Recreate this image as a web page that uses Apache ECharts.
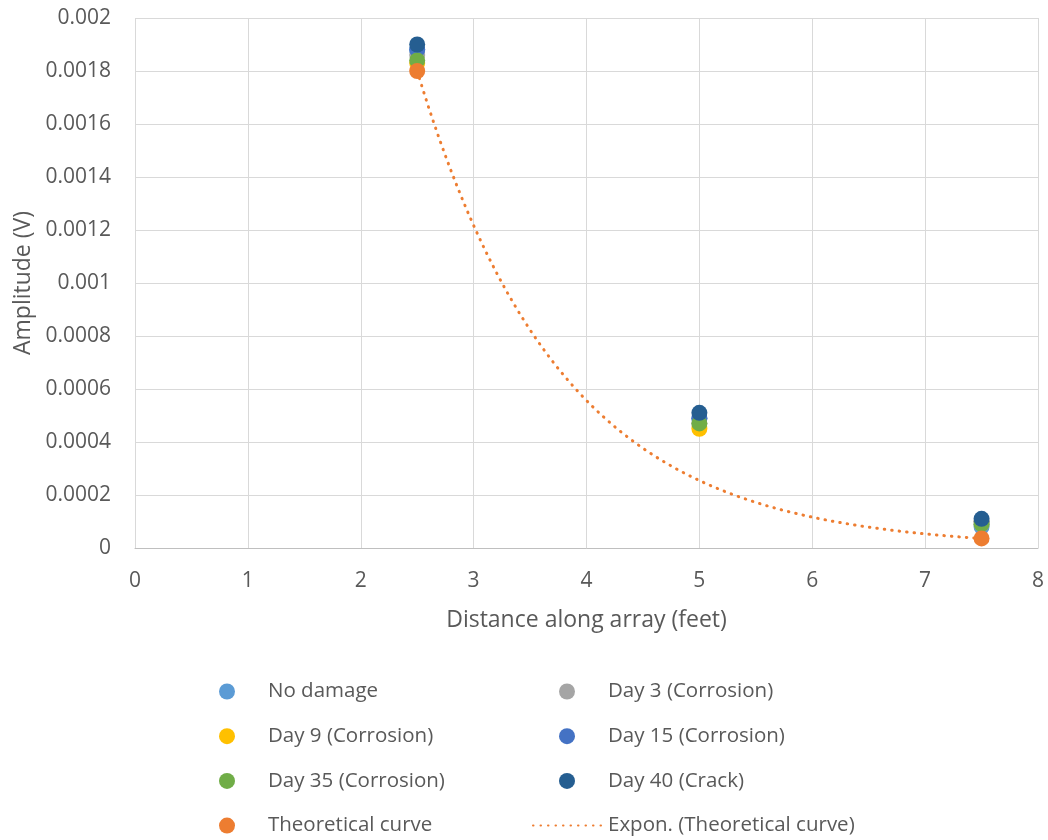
<!DOCTYPE html>
<html>
<head>
<meta charset="utf-8">
<script src="https://cdn.jsdelivr.net/npm/echarts@6/dist/echarts.min.js"></script>
<style>html,body{margin:0;padding:0;background:#fff}#c{width:1048px;height:840px}</style>
</head>
<body>
<div id="c"></div>
<script>
// ---- data ----
const distances = [2.5, 5, 7.5];
const noDamage = [0.00188, 0.00049, 0.00008];
const day3 = [0.00186, 0.00047, 0.00009];
const day9 = [0.00183, 0.00045, 0.00010];
const day15 = [0.00188, 0.00049, 0.00010];
const day35 = [0.00184, 0.00047, 0.00009];
const day40 = [0.00190, 0.00051, 0.00011];
const theoX = [2.5, 7.5];
const theoY = [0.00180, 0.000036];
const seriesNames = ['No damage', 'Day 3 (Corrosion)', 'Day 9 (Corrosion)', 'Day 15 (Corrosion)', 'Day 35 (Corrosion)', 'Day 40 (Crack)', 'Theoretical curve'];
const trendName = 'Expon. (Theoretical curve)';

const colors = ['#5B9BD5', '#A5A5A5', '#FFC000', '#4472C4', '#70AD47', '#255E91', '#ED7D31'];
const FONT = '"Open Sans", sans-serif';

// Exponential (least squares on ln y) trendline fitted from theoretical points, like Excel
function expFit(xs, ys) {
  const n = xs.length;
  let sx = 0, sy = 0, sxx = 0, sxy = 0;
  for (let i = 0; i < n; i++) {
    const ly = Math.log(ys[i]);
    sx += xs[i]; sy += ly; sxx += xs[i] * xs[i]; sxy += xs[i] * ly;
  }
  const b = (n * sxy - sx * sy) / (n * sxx - sx * sx);
  const lnA = (sy - b * sx) / n;
  return x => Math.exp(lnA) * Math.exp(b * x);
}
const f = expFit(theoX, theoY);
const trend = [];
const x0 = Math.min(...theoX), x1 = Math.max(...theoX);
for (let i = 0; i <= 100; i++) { const x = x0 + (x1 - x0) * i / 100; trend.push([x, f(x)]); }

const groups = [noDamage, day3, day9, day15, day35, day40];
const series = groups.map((vals, i) => ({
  name: seriesNames[i], type: 'scatter', symbolSize: 16,
  itemStyle: { color: colors[i], opacity: 1 },
  data: distances.map((d, j) => [d, vals[j]])
}));
series.push({
  name: seriesNames[6], type: 'scatter', symbolSize: 16,
  itemStyle: { color: colors[6], opacity: 1 },
  data: theoX.map((d, j) => [d, theoY[j]])
});
series.push({
  name: trendName, type: 'line', symbol: 'none', showSymbol: false, smooth: false,
  lineStyle: { color: '#ED7D31', width: 3, type: [0.5, 7], cap: 'round' },
  itemStyle: { color: '#ED7D31' },
  data: trend, z: 1
});

const chart = echarts.init(document.getElementById('c'), null, { renderer: 'canvas' });
const legendText = { fontFamily: FONT, fontSize: 20.5, color: '#595959', padding: [0, 0, 0, 28] };
const legendBase = { orient: 'vertical', padding: 0, itemWidth: 16, itemHeight: 16, itemGap: 23.7, icon: 'circle', height: 220 };
chart.setOption({
  animation: false,
  grid: { left: 135, right: 10, top: 18, bottom: 292 },
  xAxis: {
    type: 'value', min: 0, max: 8, interval: 1,
    name: 'Distance along array (feet)', nameLocation: 'middle', nameGap: 61,
    nameTextStyle: { fontFamily: FONT, fontSize: 23, color: '#595959' },
    axisLine: { lineStyle: { color: '#BFBFBF', width: 1 } },
    axisTick: { show: false },
    axisLabel: { fontFamily: FONT, fontSize: 21, color: '#595959', margin: 23, formatter: v => String(v) },
    splitLine: { lineStyle: { color: '#D9D9D9', width: 1 } }
  },
  yAxis: {
    type: 'value', min: 0, max: 0.002, interval: 0.0002,
    name: 'Amplitude (V)', nameLocation: 'middle', nameGap: 100, nameRotate: 90,
    nameTextStyle: { fontFamily: FONT, fontSize: 23, color: '#595959' },
    axisLine: { show: false },
    axisTick: { show: false },
    axisLabel: { fontFamily: FONT, fontSize: 21, color: '#595959', margin: 24, formatter: v => String(+v.toFixed(5)) },
    splitLine: { lineStyle: { color: '#D9D9D9', width: 1 } }
  },
  legend: [
    Object.assign({}, legendBase, { left: 219, top: 681, textStyle: legendText,
      data: [seriesNames[0], seriesNames[2], seriesNames[4], seriesNames[6]] }),
    Object.assign({}, legendBase, { left: 559, top: 681, textStyle: legendText,
      data: [seriesNames[1], seriesNames[3], seriesNames[5]] }),
    { orient: 'vertical', padding: 0, left: 532, top: 815, itemWidth: 70, itemHeight: 16,
      textStyle: Object.assign({}, legendText, { padding: [0, 0, 0, 0] }),
      data: [{ name: trendName, itemStyle: { opacity: 0 } }] }
  ],
  series: series
});
</script>
</body>
</html>
